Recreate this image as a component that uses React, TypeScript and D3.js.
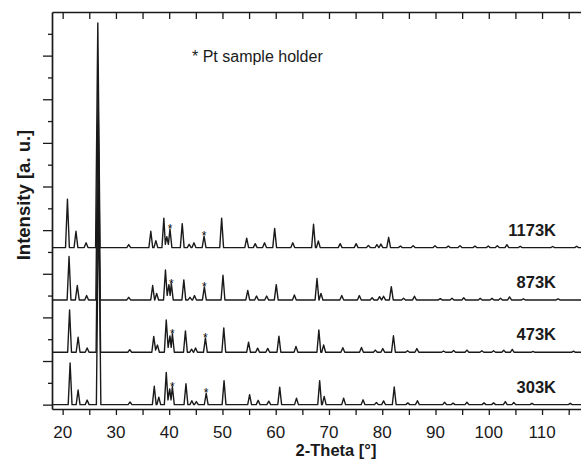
import React, { useEffect, useRef } from "react";
import * as d3 from "d3";

// XRD patterns, [2-theta, intensity above the trace's own baseline]
const traceLabels = ["303K", "473K", "873K", "1173K"];
const traceOffsets = [0, 2.4, 4.8, 7.2];

const peaks303K = [
  [21.4, 1.91], [22.9, 0.67], [24.6, 0.21], [26.75, 9.8], [32.65, 0.12],
  [37.2, 0.84], [38.05, 0.34], [39.45, 1.48], [40.1, 0.72], [40.6, 0.82],
  [43.15, 0.96], [44.25, 0.18], [45.1, 0.14], [46.95, 0.52], [50.3, 1.1],
  [55.1, 0.46], [56.7, 0.2], [58.7, 0.16], [60.75, 0.8], [63.9, 0.3],
  [68.25, 1.1], [69.1, 0.38], [72.75, 0.3], [76.4, 0.22], [78.9, 0.1],
  [80.25, 0.17], [82.25, 0.81], [84.8, 0.08], [86.6, 0.18], [91.7, 0.11],
  [93.3, 0.07], [95.9, 0.11], [99.1, 0.08], [100.9, 0.08], [103.1, 0.14],
  [104.7, 0.1], [108.1, 0.06], [115.3, 0.06],
];

const peaks473K = [
  [21.3, 1.94], [22.9, 0.69], [24.6, 0.2], [26.7, 9.6], [32.6, 0.12],
  [37.1, 0.73], [37.8, 0.33], [39.45, 1.48], [40.15, 0.75], [40.6, 0.85],
  [43.05, 0.98], [44.2, 0.14], [44.95, 0.2], [46.8, 0.66], [50.25, 1.12],
  [54.9, 0.46], [56.6, 0.19], [58.5, 0.18], [60.6, 0.74], [63.8, 0.27],
  [68.1, 1.02], [69.0, 0.34], [72.6, 0.21], [76.1, 0.22], [78.7, 0.1],
  [80.1, 0.17], [82.1, 0.76], [84.75, 0.07], [86.5, 0.17], [91.5, 0.06],
  [93.4, 0.08], [95.9, 0.1], [98.7, 0.07], [100.9, 0.07], [102.8, 0.09],
  [104.4, 0.13], [108.3, 0.04], [115.9, 0.05],
];

const peaks873K = [
  [21.2, 1.99], [22.75, 0.66], [24.5, 0.2], [26.65, 9.5], [32.4, 0.12],
  [36.9, 0.66], [37.65, 0.3], [39.3, 1.37], [39.95, 0.7], [40.4, 0.75],
  [42.75, 0.92], [43.9, 0.12], [44.75, 0.2], [46.6, 0.6], [50.1, 1.13],
  [54.75, 0.44], [56.4, 0.18], [58.3, 0.18], [60.1, 0.7], [63.5, 0.23],
  [67.75, 0.98], [68.5, 0.3], [72.4, 0.2], [75.7, 0.2], [78.1, 0.1],
  [79.5, 0.15], [80.25, 0.17], [81.7, 0.61], [84.0, 0.08], [86.05, 0.17],
  [90.9, 0.06], [93.1, 0.08], [95.3, 0.1], [98.4, 0.07], [100.6, 0.07],
  [102.2, 0.08], [103.9, 0.14], [106.5, 0.05], [113.0, 0.05],
];

const peaks1173K = [
  [20.9, 2.22], [22.5, 0.75], [24.4, 0.22], [26.6, 10.3], [32.4, 0.14],
  [36.55, 0.75], [37.5, 0.32], [39.0, 1.35], [39.55, 0.5], [40.15, 0.85],
  [42.45, 1.1], [43.75, 0.15], [44.65, 0.22], [46.55, 0.52], [49.85, 1.35],
  [54.55, 0.43], [56.15, 0.18], [57.9, 0.22], [59.8, 0.88], [63.2, 0.22],
  [67.1, 1.07], [68.0, 0.3], [72.1, 0.18], [75.1, 0.18], [77.4, 0.1],
  [79.0, 0.14], [79.75, 0.16], [81.2, 0.47], [83.4, 0.07], [85.8, 0.09],
  [89.9, 0.08], [92.4, 0.07], [94.6, 0.09], [97.4, 0.07], [99.9, 0.07],
  [101.6, 0.08], [103.4, 0.13], [105.9, 0.06], [112.0, 0.05], [116.5, 0.06],
];

const tracePeaks = [peaks303K, peaks473K, peaks873K, peaks1173K];

// Pt sample holder reflections marked with *
const ptStars = [[40.6, 46.95], [40.6, 46.8], [40.4, 46.6], [40.15, 46.55]];

const xTicks = [20, 30, 40, 50, 60, 70, 80, 90, 100, 110];
const xMinorTicks = [25, 35, 45, 55, 65, 75, 85, 95, 105, 115];
const yTicks = [0, 1, 2, 3, 4, 5, 6, 7, 8, 9, 10, 11, 12, 13, 14, 15, 16, 17];

const W = 581;
const H = 460;
const FONT = "'Liberation Sans', Arial, sans-serif";
const INK = "#1a1a1a";

// peak outline: foot, apex, foot (neighbouring peaks share a shallow valley)
function profile(peaks: number[][], domain: number[]) {
  const sorted = [...peaks].sort((a, b) => a[0] - b[0]);
  const pts: [number, number][] = [[domain[0], 0]];
  sorted.forEach(([t, h], i) => {
    const hw = h > 5 ? 0.42 : 0.36;
    const prev = sorted[i - 1];
    const next = sorted[i + 1];
    if (!prev || t - prev[0] >= 2 * hw) pts.push([t - hw, 0]);
    pts.push([t, h]);
    if (next && next[0] - t < 2 * hw) pts.push([(t + next[0]) / 2, Math.min(h, next[1]) * 0.3]);
    else pts.push([t + hw, 0]);
  });
  pts.push([domain[1], 0]);
  return pts;
}

export default function App() {
  const ref = useRef<SVGSVGElement | null>(null);

  useEffect(() => {
    if (!ref.current) return;
    const svg = d3.select(ref.current);
    svg.selectAll("*").remove();

    const left = 52, top = 12, bottom = 409, right = 582;
    const x = d3.scaleLinear().domain([18, 117.5]).range([left, right]);
    const y = d3.scaleLinear().domain([-0.2, 18]).range([bottom, top]);

    const line = d3
      .line<[number, number]>()
      .x((d) => x(d[0]))
      .y((d) => d[1]);

    tracePeaks.forEach((peaks, i) => {
      const off = traceOffsets[i];
      const pts = profile(peaks, x.domain()).map((p) => [p[0], y(p[1] + off)] as [number, number]);
      svg
        .append("path")
        .attr("d", line(pts))
        .attr("fill", "none")
        .attr("stroke", INK)
        .attr("stroke-width", 1.4)
        .attr("stroke-linejoin", "round");

      // stars over Pt peaks
      ptStars[i].forEach((t) => {
        const pk = peaks.reduce((a, b) => (Math.abs(b[0] - t) < Math.abs(a[0] - t) ? b : a));
        svg
          .append("text")
          .attr("x", x(pk[0]))
          .attr("y", y(pk[1] + off) + 4)
          .attr("text-anchor", "middle")
          .attr("font-family", FONT)
          .attr("font-size", 12)
          .attr("fill", "#000")
          .text("*");
      });

      svg
        .append("text")
        .attr("x", 556)
        .attr("y", y(off + 0.55))
        .attr("text-anchor", "end")
        .attr("font-family", FONT)
        .attr("font-size", 16.5)
        .attr("font-weight", "bold")
        .attr("fill", INK)
        .text(traceLabels[i]);
    });

    // bottom axis
    svg
      .append("g")
      .attr("transform", `translate(0,${bottom})`)
      .call(
        d3.axisBottom(x).tickValues([...xTicks, ...xMinorTicks]).tickSize(6).tickSizeOuter(0).tickFormat(() => "")
      );
    // top axis, ticks pointing inward
    svg
      .append("g")
      .attr("transform", `translate(0,${top})`)
      .call(
        d3.axisTop(x).tickValues([...xTicks, ...xMinorTicks]).tickSize(-7).tickSizeOuter(0).tickFormat(() => "")
      );
    // left axis, long ticks on even values
    svg
      .append("g")
      .attr("transform", `translate(${left},0)`)
      .call(
        d3.axisLeft(y).tickValues(yTicks.filter((v) => v % 2 === 0)).tickSize(9).tickSizeOuter(0).tickFormat(() => "")
      );
    const leftMinor = svg.append("g").attr("transform", `translate(${left},0)`);
    leftMinor.call(
      d3.axisLeft(y).tickValues(yTicks.filter((v) => v % 2 === 1)).tickSize(4).tickSizeOuter(0).tickFormat(() => "")
    );
    leftMinor.select(".domain").remove();

    svg.selectAll(".domain").attr("stroke", INK).attr("stroke-width", 1.7);
    svg.selectAll(".tick line").attr("stroke", INK).attr("stroke-width", 1.3);

    // x tick labels
    svg
      .selectAll("text.xl")
      .data(xTicks)
      .enter()
      .append("text")
      .attr("class", "xl")
      .attr("x", (d) => x(d))
      .attr("y", 437.5)
      .attr("text-anchor", "middle")
      .attr("font-family", FONT)
      .attr("font-size", 17)
      .attr("fill", INK)
      .text((d) => String(d));

    svg
      .append("text")
      .attr("x", 336)
      .attr("y", 455.5)
      .attr("text-anchor", "middle")
      .attr("font-family", FONT)
      .attr("font-size", 16.5)
      .attr("font-weight", "bold")
      .attr("fill", INK)
      .text("2-Theta [°]");

    svg
      .append("text")
      .attr("transform", "translate(30,195) rotate(-90)")
      .attr("text-anchor", "middle")
      .attr("font-family", FONT)
      .attr("font-size", 18.5)
      .attr("font-weight", "bold")
      .attr("fill", INK)
      .text("Intensity [a. u.]");

    svg
      .append("text")
      .attr("x", 192)
      .attr("y", 61.5)
      .attr("font-family", FONT)
      .attr("font-size", 16)
      .attr("fill", INK)
      .text("* Pt sample holder");
  }, []);

  return (
    <svg
      ref={ref}
      width={W}
      height={H}
      viewBox={`0 0 ${W} ${H}`}
      style={{ position: "absolute", left: 0, top: 0, background: "#fff" }}
    />
  );
}
